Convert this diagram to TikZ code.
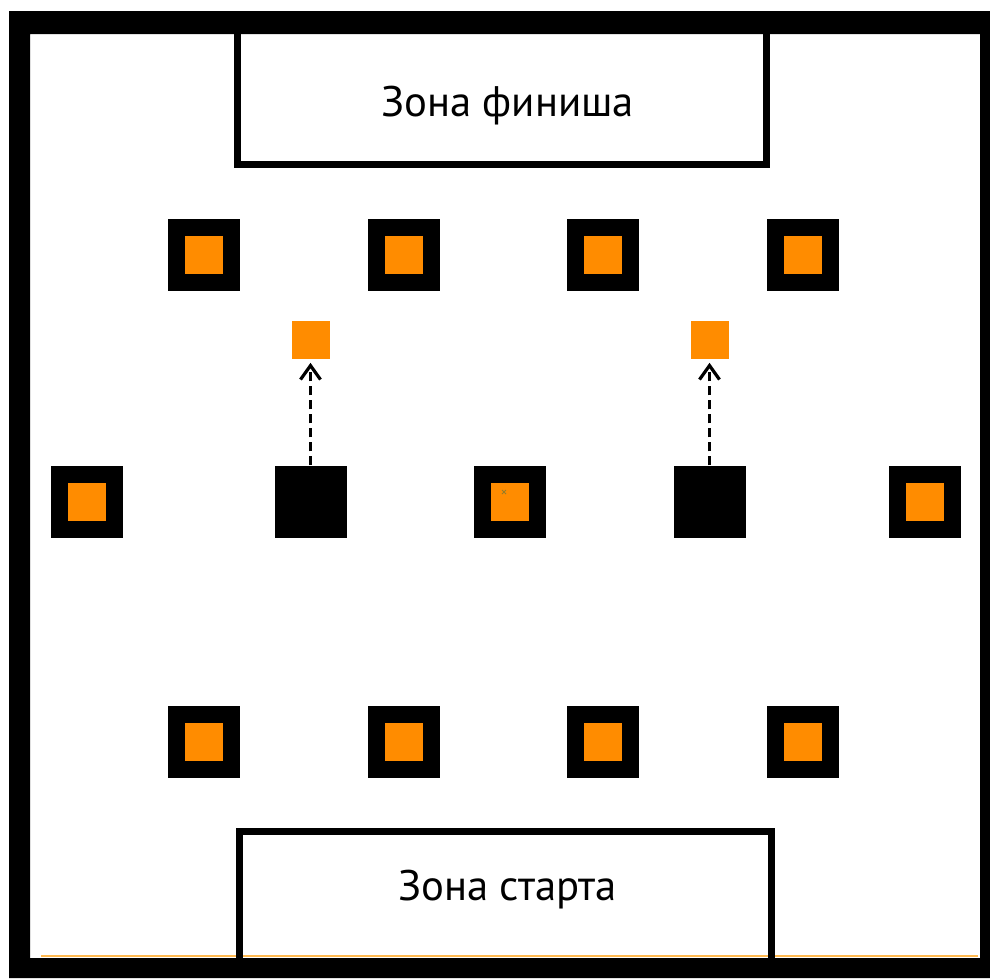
\documentclass[tikz,border=0pt]{standalone}
\usepackage{fontspec}
\setmainfont{PT Sans}
\usetikzlibrary{positioning,arrows.meta}

\definecolor{conecolor}{RGB}{255,140,0}
\definecolor{edgeorange}{RGB}{255,185,80}
\definecolor{markolive}{RGB}{150,125,40}

\begin{document}
\begin{tikzpicture}[
x=1pt,
y=-1pt,
obstacle/.style={
draw=black,
line width=17pt,
fill=conecolor,
minimum size=55pt,
inner sep=0pt
},
block/.style={
fill=black,
minimum size=72pt,
inner sep=0pt
},
target/.style={
fill=conecolor,
minimum size=38pt,
inner sep=0pt
},
zone/.style={
draw,
line width=7pt,
inner sep=0pt
},
zonetext/.style={
anchor=base,
inner sep=0pt,
font=\fontsize{42.7}{50}\selectfont
},
move/.style={
-{Straight Barb[length=14pt,width=20pt]},
line width=3.2pt,
dash pattern=on 9pt off 5pt,
shorten >=4pt
}
]

\useasboundingbox (0,0) rectangle (990,978);

%%%%%%%%%%%%%%%%%%%%%%%%%%%%%%%%%%%%
% Zones
%%%%%%%%%%%%%%%%%%%%%%%%%%%%%%%%%%%%

\draw[edgeorange,line width=1.2pt] (41,956) -- (978,956);

\node[zone,minimum width=529.5pt,minimum height=134.5pt] (finish)
at (501.75,97.25) {};

\node[zonetext] (finishlbl)
at (507.5,116) {Зона финиша};

\node[zone,minimum width=532pt,minimum height=134pt] (start)
at (505,898) {};

\node[zonetext] (startlbl)
at (507.5,900) {Зона старта};

%%%%%%%%%%%%%%%%%%%%%%%%%%%%%%%%%%%%
% Obstacles
%%%%%%%%%%%%%%%%%%%%%%%%%%%%%%%%%%%%

\node[obstacle] (top1) at (204,255) {};
\node[obstacle] (top2) at (403.5,255) {};
\node[obstacle] (top3) at (603,255) {};
\node[obstacle] (top4) at (802.5,255) {};

\node[obstacle] (mid1) at (87,502) {};
\node[block] (b1) at (310.5,501.5) {};
\node[obstacle] (mid2) at (509.5,501.5) {};
\node[block] (b2) at (709.5,501.5) {};
\node[obstacle] (mid3) at (924.5,501.5) {};

\node[obstacle] (bot1) at (204,741.5) {};
\node[obstacle] (bot2) at (403.5,741.5) {};
\node[obstacle] (bot3) at (603,741.5) {};
\node[obstacle] (bot4) at (803,741.5) {};

\draw[markolive,line width=0.8pt] (502,490) -- (506,494) (502,494) -- (506,490);

%%%%%%%%%%%%%%%%%%%%%%%%%%%%%%%%%%%%
% Targets
%%%%%%%%%%%%%%%%%%%%%%%%%%%%%%%%%%%%

\node[target,above=106.5pt of b1] (t1) {};

\node[target,above=106.5pt of b2] (t2) {};

%%%%%%%%%%%%%%%%%%%%%%%%%%%%%%%%%%%%
% Moves
%%%%%%%%%%%%%%%%%%%%%%%%%%%%%%%%%%%%

\draw[move] (b1.north) -- (t1.south);

\draw[move] (b2.north) -- (t2.south);

%%%%%%%%%%%%%%%%%%%%%%%%%%%%%%%%%%%%
% Field border
%%%%%%%%%%%%%%%%%%%%%%%%%%%%%%%%%%%%

\fill[even odd rule] (9,11) rectangle (990,978) (30,34) rectangle (980,958);

\end{tikzpicture}
\end{document}
